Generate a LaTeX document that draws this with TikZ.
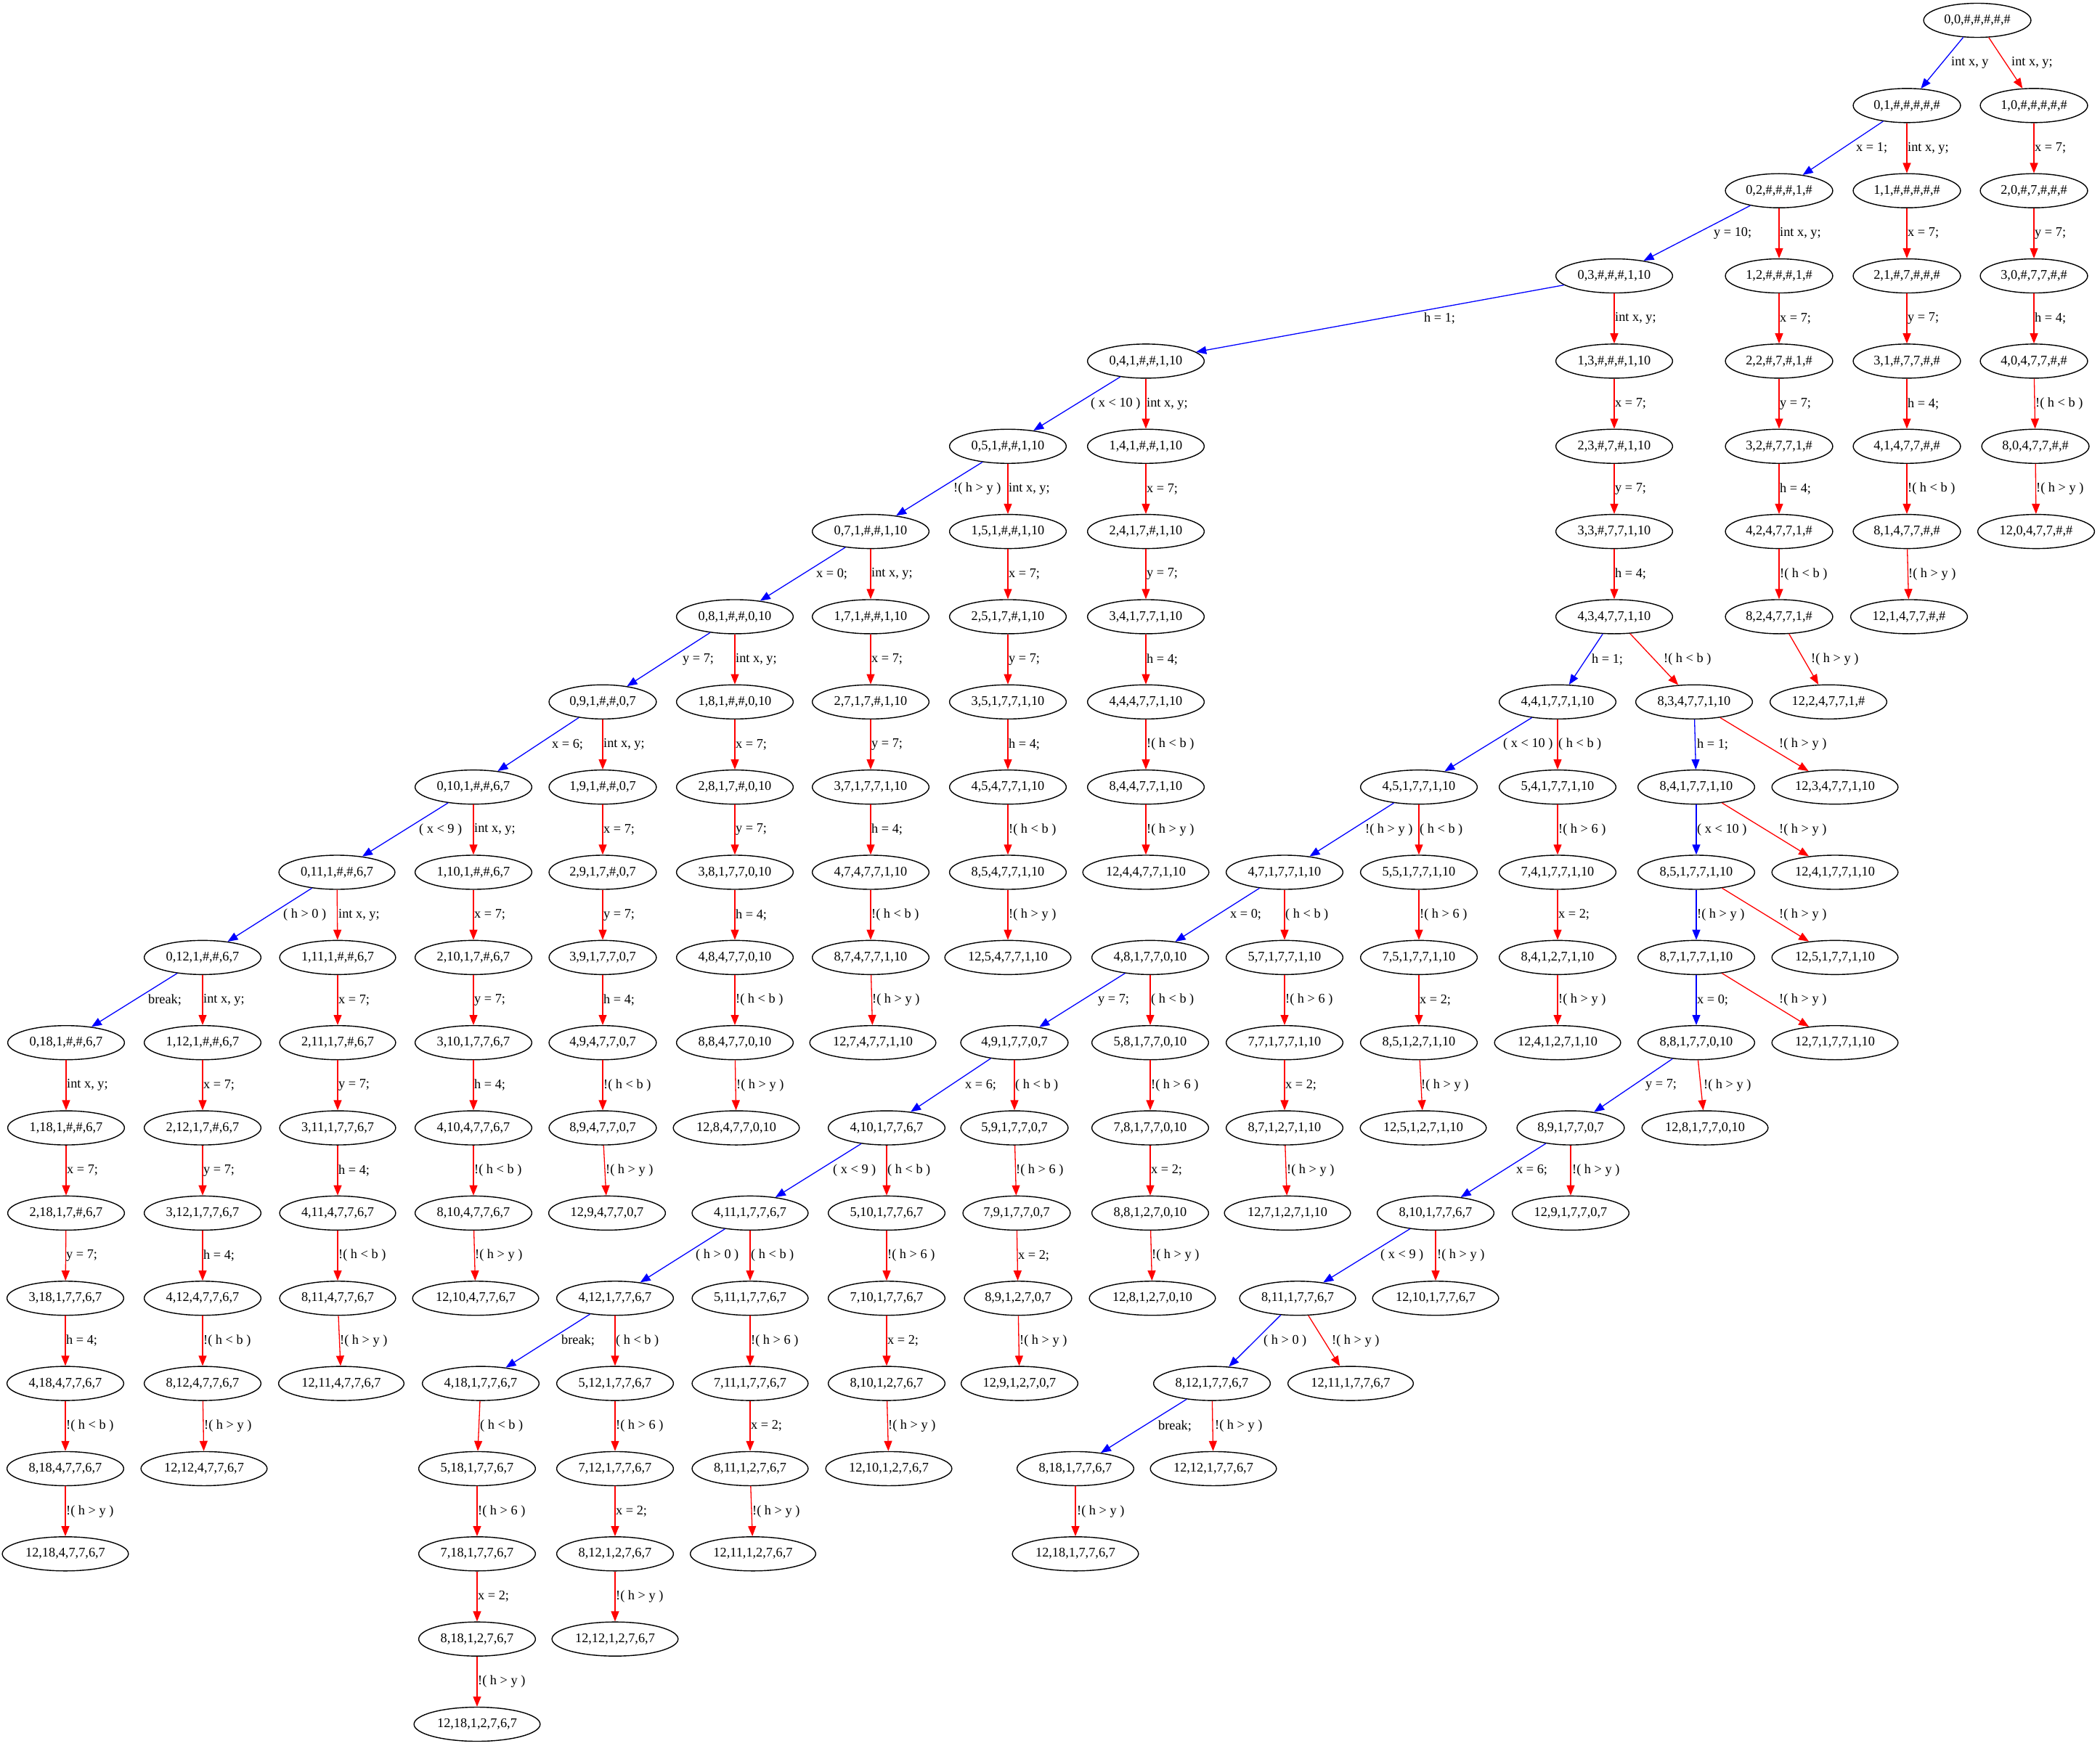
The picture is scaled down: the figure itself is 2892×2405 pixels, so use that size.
\documentclass[tikz,border=0pt]{standalone}
\usepackage{fontspec}
\setmainfont{Liberation Serif}
\usetikzlibrary{arrows.meta,shapes.geometric}
\tikzset{
  st/.style={ellipse, draw=black, line width=1.4pt, inner xsep=6.5pt, inner ysep=1pt,
    minimum height=47pt, font=\fontsize{18.3}{22}\selectfont},
  lbl/.style={anchor=west, inner sep=1pt, font=\fontsize{18.3}{22}\selectfont},
  be/.style={draw=blue, line width=1.3pt, -{Triangle[length=14pt,width=11pt]}},
  re/.style={draw=red, line width=1.3pt, -{Triangle[length=14pt,width=11pt]}},
}
\newcommand\E[6]{\draw[#1] (#2) -- (#3); \node[lbl] (L#3) at (#4,#5) {#6};}
\begin{document}
\begin{tikzpicture}[x=1pt,y=-117.35pt]
\useasboundingbox (0pt,0pt) rectangle (2892pt,-2405pt);
\begin{scope}[yshift=-28pt]
% main chain
\node[st] (m0) at (2723,0) {0,0,\#,\#,\#,\#,\#};
\node[st] (m1) at (2626,1) {0,1,\#,\#,\#,\#,\#};
\node[st] (m2) at (2450,2) {0,2,\#,\#,\#,1,\#};
\node[st] (m3) at (2223,3) {0,3,\#,\#,\#,1,10};
\node[st] (m4) at (1578,4) {0,4,1,\#,\#,1,10};
\node[st] (m5) at (1388,5) {0,5,1,\#,\#,1,10};
\node[st] (m7) at (1199,6) {0,7,1,\#,\#,1,10};
\node[st] (m8) at (1012,7) {0,8,1,\#,\#,0,10};
\node[st] (m9) at (830,8) {0,9,1,\#,\#,0,7};
\node[st] (m10) at (652,9) {0,10,1,\#,\#,6,7};
\node[st] (m11) at (464,10) {0,11,1,\#,\#,6,7};
\node[st] (m12) at (279,11) {0,12,1,\#,\#,6,7};
\node[st] (m18) at (91,12) {0,18,1,\#,\#,6,7};
% k=0
\node[st] (a0) at (2801,1) {1,0,\#,\#,\#,\#,\#};
\node[st] (b0) at (2801,2) {2,0,\#,7,\#,\#,\#};
\node[st] (c0) at (2801,3) {3,0,\#,7,7,\#,\#};
\node[st] (d0) at (2801,4) {4,0,4,7,7,\#,\#};
\node[st] (e0) at (2803,5) {8,0,4,7,7,\#,\#};
\node[st] (f0) at (2804,6) {12,0,4,7,7,\#,\#};
% k=1
\node[st] (a1) at (2626,2) {1,1,\#,\#,\#,\#,\#};
\node[st] (b1) at (2626,3) {2,1,\#,7,\#,\#,\#};
\node[st] (c1) at (2626,4) {3,1,\#,7,7,\#,\#};
\node[st] (d1) at (2626,5) {4,1,4,7,7,\#,\#};
\node[st] (e1) at (2626,6) {8,1,4,7,7,\#,\#};
\node[st] (f1) at (2629,7) {12,1,4,7,7,\#,\#};
% k=2
\node[st] (a2) at (2450,3) {1,2,\#,\#,\#,1,\#};
\node[st] (b2) at (2450,4) {2,2,\#,7,\#,1,\#};
\node[st] (c2) at (2450,5) {3,2,\#,7,7,1,\#};
\node[st] (d2) at (2450,6) {4,2,4,7,7,1,\#};
\node[st] (e2) at (2450,7) {8,2,4,7,7,1,\#};
\node[st] (f2) at (2518,8) {12,2,4,7,7,1,\#};
% k=3
\node[st] (a3) at (2223,4) {1,3,\#,\#,\#,1,10};
\node[st] (b3) at (2223,5) {2,3,\#,7,\#,1,10};
\node[st] (c3) at (2223,6) {3,3,\#,7,7,1,10};
\node[st] (d3) at (2223,7) {4,3,4,7,7,1,10};
\node[st] (e3) at (2333,8) {8,3,4,7,7,1,10};
\node[st] (f3) at (2527,9) {12,3,4,7,7,1,10};
% k=4
\node[st] (a4) at (1578,5) {1,4,1,\#,\#,1,10};
\node[st] (b4) at (1578,6) {2,4,1,7,\#,1,10};
\node[st] (c4) at (1578,7) {3,4,1,7,7,1,10};
\node[st] (d4) at (1578,8) {4,4,4,7,7,1,10};
\node[st] (e4) at (1578,9) {8,4,4,7,7,1,10};
\node[st] (f4) at (1578,10) {12,4,4,7,7,1,10};
% k=5
\node[st] (a5) at (1388,6) {1,5,1,\#,\#,1,10};
\node[st] (b5) at (1388,7) {2,5,1,7,\#,1,10};
\node[st] (c5) at (1388,8) {3,5,1,7,7,1,10};
\node[st] (d5) at (1388,9) {4,5,4,7,7,1,10};
\node[st] (e5) at (1388,10) {8,5,4,7,7,1,10};
\node[st] (f5) at (1388,11) {12,5,4,7,7,1,10};
% k=7
\node[st] (a7) at (1199,7) {1,7,1,\#,\#,1,10};
\node[st] (b7) at (1199,8) {2,7,1,7,\#,1,10};
\node[st] (c7) at (1199,9) {3,7,1,7,7,1,10};
\node[st] (d7) at (1199,10) {4,7,4,7,7,1,10};
\node[st] (e7) at (1199,11) {8,7,4,7,7,1,10};
\node[st] (f7) at (1202,12) {12,7,4,7,7,1,10};
% k=8
\node[st] (a8) at (1012,8) {1,8,1,\#,\#,0,10};
\node[st] (b8) at (1012,9) {2,8,1,7,\#,0,10};
\node[st] (c8) at (1012,10) {3,8,1,7,7,0,10};
\node[st] (d8) at (1012,11) {4,8,4,7,7,0,10};
\node[st] (e8) at (1012,12) {8,8,4,7,7,0,10};
\node[st] (f8) at (1014,13) {12,8,4,7,7,0,10};
% k=9
\node[st] (a9) at (830,9) {1,9,1,\#,\#,0,7};
\node[st] (b9) at (830,10) {2,9,1,7,\#,0,7};
\node[st] (c9) at (830,11) {3,9,1,7,7,0,7};
\node[st] (d9) at (830,12) {4,9,4,7,7,0,7};
\node[st] (e9) at (830,13) {8,9,4,7,7,0,7};
\node[st] (f9) at (836,14) {12,9,4,7,7,0,7};
% k=10
\node[st] (a10) at (652,10) {1,10,1,\#,\#,6,7};
\node[st] (b10) at (652,11) {2,10,1,7,\#,6,7};
\node[st] (c10) at (652,12) {3,10,1,7,7,6,7};
\node[st] (d10) at (652,13) {4,10,4,7,7,6,7};
\node[st] (e10) at (652,14) {8,10,4,7,7,6,7};
\node[st] (f10) at (655,15) {12,10,4,7,7,6,7};
% k=11
\node[st] (a11) at (465,11) {1,11,1,\#,\#,6,7};
\node[st] (b11) at (465,12) {2,11,1,7,\#,6,7};
\node[st] (c11) at (465,13) {3,11,1,7,7,6,7};
\node[st] (d11) at (465,14) {4,11,4,7,7,6,7};
\node[st] (e11) at (465,15) {8,11,4,7,7,6,7};
\node[st] (f11) at (470,16) {12,11,4,7,7,6,7};
% k=12
\node[st] (a12) at (279,12) {1,12,1,\#,\#,6,7};
\node[st] (b12) at (279,13) {2,12,1,7,\#,6,7};
\node[st] (c12) at (279,14) {3,12,1,7,7,6,7};
\node[st] (d12) at (279,15) {4,12,4,7,7,6,7};
\node[st] (e12) at (279,16) {8,12,4,7,7,6,7};
\node[st] (f12) at (281,17) {12,12,4,7,7,6,7};
% k=18
\node[st] (a18) at (91,13) {1,18,1,\#,\#,6,7};
\node[st] (b18) at (91,14) {2,18,1,7,\#,6,7};
\node[st] (c18) at (90,15) {3,18,1,7,7,6,7};
\node[st] (d18) at (90,16) {4,18,4,7,7,6,7};
\node[st] (e18) at (90,17) {8,18,4,7,7,6,7};
\node[st] (f18) at (90,18) {12,18,4,7,7,6,7};
% right branch main (4,k,1)
\node[st] (M4) at (2145,8) {4,4,1,7,7,1,10};
\node[st] (M5) at (1954,9) {4,5,1,7,7,1,10};
\node[st] (M7) at (1769,10) {4,7,1,7,7,1,10};
\node[st] (M8) at (1584,11) {4,8,1,7,7,0,10};
\node[st] (M9) at (1397,12) {4,9,1,7,7,0,7};
\node[st] (M10) at (1221,13) {4,10,1,7,7,6,7};
\node[st] (M11) at (1033,14) {4,11,1,7,7,6,7};
\node[st] (M12) at (847,15) {4,12,1,7,7,6,7};
\node[st] (M18) at (662,16) {4,18,1,7,7,6,7};
% P,Q,S,T
\node[st] (P4) at (2145,9) {5,4,1,7,7,1,10};
\node[st] (Q4) at (2145,10) {7,4,1,7,7,1,10};
\node[st] (S4) at (2145,11) {8,4,1,2,7,1,10};
\node[st] (T4) at (2145,12) {12,4,1,2,7,1,10};
\node[st] (P5) at (1954,10) {5,5,1,7,7,1,10};
\node[st] (Q5) at (1954,11) {7,5,1,7,7,1,10};
\node[st] (S5) at (1954,12) {8,5,1,2,7,1,10};
\node[st] (T5) at (1960,13) {12,5,1,2,7,1,10};
\node[st] (P7) at (1769,11) {5,7,1,7,7,1,10};
\node[st] (Q7) at (1769,12) {7,7,1,7,7,1,10};
\node[st] (S7) at (1769,13) {8,7,1,2,7,1,10};
\node[st] (T7) at (1773,14) {12,7,1,2,7,1,10};
\node[st] (P8) at (1584,12) {5,8,1,7,7,0,10};
\node[st] (Q8) at (1584,13) {7,8,1,7,7,0,10};
\node[st] (S8) at (1584,14) {8,8,1,2,7,0,10};
\node[st] (T8) at (1587,15) {12,8,1,2,7,0,10};
\node[st] (P9) at (1397,13) {5,9,1,7,7,0,7};
\node[st] (Q9) at (1400,14) {7,9,1,7,7,0,7};
\node[st] (S9) at (1402,15) {8,9,1,2,7,0,7};
\node[st] (T9) at (1404,16) {12,9,1,2,7,0,7};
\node[st] (P10) at (1221,14) {5,10,1,7,7,6,7};
\node[st] (Q10) at (1221,15) {7,10,1,7,7,6,7};
\node[st] (S10) at (1221,16) {8,10,1,2,7,6,7};
\node[st] (T10) at (1224,17) {12,10,1,2,7,6,7};
\node[st] (P11) at (1033,15) {5,11,1,7,7,6,7};
\node[st] (Q11) at (1033,16) {7,11,1,7,7,6,7};
\node[st] (S11) at (1033,17) {8,11,1,2,7,6,7};
\node[st] (T11) at (1037,18) {12,11,1,2,7,6,7};
\node[st] (P12) at (847,16) {5,12,1,7,7,6,7};
\node[st] (Q12) at (847,17) {7,12,1,7,7,6,7};
\node[st] (S12) at (847,18) {8,12,1,2,7,6,7};
\node[st] (T12) at (847,19) {12,12,1,2,7,6,7};
\node[st] (P18) at (657,17) {5,18,1,7,7,6,7};
\node[st] (Q18) at (657,18) {7,18,1,7,7,6,7};
\node[st] (S18) at (657,19) {8,18,1,2,7,6,7};
\node[st] (T18) at (657,20) {12,18,1,2,7,6,7};
% third branch
\node[st] (U4) at (2336,9) {8,4,1,7,7,1,10};
\node[st] (U5) at (2336,10) {8,5,1,7,7,1,10};
\node[st] (U7) at (2336,11) {8,7,1,7,7,1,10};
\node[st] (U8) at (2336,12) {8,8,1,7,7,0,10};
\node[st] (U9) at (2163,13) {8,9,1,7,7,0,7};
\node[st] (U10) at (1977,14) {8,10,1,7,7,6,7};
\node[st] (U11) at (1787,15) {8,11,1,7,7,6,7};
\node[st] (U12) at (1669,16) {8,12,1,7,7,6,7};
\node[st] (U18) at (1481,17) {8,18,1,7,7,6,7};
\node[st] (V4) at (2527,10) {12,4,1,7,7,1,10};
\node[st] (V5) at (2527,11) {12,5,1,7,7,1,10};
\node[st] (V7) at (2527,12) {12,7,1,7,7,1,10};
\node[st] (V8) at (2348,13) {12,8,1,7,7,0,10};
\node[st] (V9) at (2163,14) {12,9,1,7,7,0,7};
\node[st] (V10) at (1977,15) {12,10,1,7,7,6,7};
\node[st] (V11) at (1860,16) {12,11,1,7,7,6,7};
\node[st] (V12) at (1671,17) {12,12,1,7,7,6,7};
\node[st] (V18) at (1481,18) {12,18,1,7,7,6,7};
% ---- edges: main chain
\E{be}{m0}{m1}{2686}{0.5}{int x, y}
\E{be}{m1}{m2}{2555}{1.5}{x = 1;}
\E{be}{m2}{m3}{2359}{2.5}{y = 10;}
\E{be}{m3}{m4}{1960}{3.5}{h = 1;}
\E{be}{m4}{m5}{1501}{4.5}{( x < 10 )}
\E{be}{m5}{m7}{1312}{5.5}{!( h > y )}
\E{be}{m7}{m8}{1123}{6.5}{x = 0;}
\E{be}{m8}{m9}{939}{7.5}{y = 7;}
\E{be}{m9}{m10}{759}{8.5}{x = 6;}
\E{be}{m10}{m11}{576}{9.5}{( x < 9 )}
\E{be}{m11}{m12}{389}{10.5}{( h > 0 )}
\E{be}{m12}{m18}{203}{11.5}{break;}
% k=0
\E{re}{m0}{a0}{2769}{0.5}{int x, y;}
\E{re}{a0}{b0}{2801}{1.5}{x = 7;}
\E{re}{b0}{c0}{2801}{2.5}{y = 7;}
\E{re}{c0}{d0}{2801}{3.5}{h = 4;}
\E{re}{d0}{e0}{2802}{4.5}{!( h < b )}
\E{re}{e0}{f0}{2803}{5.5}{!( h > y )}
% k=1
\E{re}{m1}{a1}{2626}{1.5}{int x, y;}
\E{re}{a1}{b1}{2626}{2.5}{x = 7;}
\E{re}{b1}{c1}{2626}{3.5}{y = 7;}
\E{re}{c1}{d1}{2626}{4.5}{h = 4;}
\E{re}{d1}{e1}{2626}{5.5}{!( h < b )}
\E{re}{e1}{f1}{2627}{6.5}{!( h > y )}
% k=2
\E{re}{m2}{a2}{2450}{2.5}{int x, y;}
\E{re}{a2}{b2}{2450}{3.5}{x = 7;}
\E{re}{b2}{c2}{2450}{4.5}{y = 7;}
\E{re}{c2}{d2}{2450}{5.5}{h = 4;}
\E{re}{d2}{e2}{2450}{6.5}{!( h < b )}
\E{re}{e2}{f2}{2493}{7.5}{!( h > y )}
% k=3
\E{re}{m3}{a3}{2223}{3.5}{int x, y;}
\E{re}{a3}{b3}{2223}{4.5}{x = 7;}
\E{re}{b3}{c3}{2223}{5.5}{y = 7;}
\E{re}{c3}{d3}{2223}{6.5}{h = 4;}
\E{re}{d3}{e3}{2290}{7.5}{!( h < b )}
\E{re}{e3}{f3}{2449}{8.5}{!( h > y )}
\E{be}{d3}{M4}{2191}{7.5}{h = 1;}
\E{be}{e3}{U4}{2336}{8.5}{h = 1;}
% k=4
\E{re}{m4}{a4}{1578}{4.5}{int x, y;}
\E{re}{a4}{b4}{1578}{5.5}{x = 7;}
\E{re}{b4}{c4}{1578}{6.5}{y = 7;}
\E{re}{c4}{d4}{1578}{7.5}{h = 4;}
\E{re}{d4}{e4}{1578}{8.5}{!( h < b )}
\E{re}{e4}{f4}{1578}{9.5}{!( h > y )}
% k=5
\E{re}{m5}{a5}{1388}{5.5}{int x, y;}
\E{re}{a5}{b5}{1388}{6.5}{x = 7;}
\E{re}{b5}{c5}{1388}{7.5}{y = 7;}
\E{re}{c5}{d5}{1388}{8.5}{h = 4;}
\E{re}{d5}{e5}{1388}{9.5}{!( h < b )}
\E{re}{e5}{f5}{1388}{10.5}{!( h > y )}
% k=7
\E{re}{m7}{a7}{1199}{6.5}{int x, y;}
\E{re}{a7}{b7}{1199}{7.5}{x = 7;}
\E{re}{b7}{c7}{1199}{8.5}{y = 7;}
\E{re}{c7}{d7}{1199}{9.5}{h = 4;}
\E{re}{d7}{e7}{1199}{10.5}{!( h < b )}
\E{re}{e7}{f7}{1200}{11.5}{!( h > y )}
% k=8
\E{re}{m8}{a8}{1012}{7.5}{int x, y;}
\E{re}{a8}{b8}{1012}{8.5}{x = 7;}
\E{re}{b8}{c8}{1012}{9.5}{y = 7;}
\E{re}{c8}{d8}{1012}{10.5}{h = 4;}
\E{re}{d8}{e8}{1012}{11.5}{!( h < b )}
\E{re}{e8}{f8}{1013}{12.5}{!( h > y )}
% k=9
\E{re}{m9}{a9}{830}{8.5}{int x, y;}
\E{re}{a9}{b9}{830}{9.5}{x = 7;}
\E{re}{b9}{c9}{830}{10.5}{y = 7;}
\E{re}{c9}{d9}{830}{11.5}{h = 4;}
\E{re}{d9}{e9}{830}{12.5}{!( h < b )}
\E{re}{e9}{f9}{833}{13.5}{!( h > y )}
% k=10
\E{re}{m10}{a10}{652}{9.5}{int x, y;}
\E{re}{a10}{b10}{652}{10.5}{x = 7;}
\E{re}{b10}{c10}{652}{11.5}{y = 7;}
\E{re}{c10}{d10}{652}{12.5}{h = 4;}
\E{re}{d10}{e10}{652}{13.5}{!( h < b )}
\E{re}{e10}{f10}{653}{14.5}{!( h > y )}
% k=11
\E{re}{m11}{a11}{465}{10.5}{int x, y;}
\E{re}{a11}{b11}{465}{11.5}{x = 7;}
\E{re}{b11}{c11}{465}{12.5}{y = 7;}
\E{re}{c11}{d11}{465}{13.5}{h = 4;}
\E{re}{d11}{e11}{465}{14.5}{!( h < b )}
\E{re}{e11}{f11}{467}{15.5}{!( h > y )}
% k=12
\E{re}{m12}{a12}{279}{11.5}{int x, y;}
\E{re}{a12}{b12}{279}{12.5}{x = 7;}
\E{re}{b12}{c12}{279}{13.5}{y = 7;}
\E{re}{c12}{d12}{279}{14.5}{h = 4;}
\E{re}{d12}{e12}{279}{15.5}{!( h < b )}
\E{re}{e12}{f12}{280}{16.5}{!( h > y )}
% k=18
\E{re}{m18}{a18}{91}{12.5}{int x, y;}
\E{re}{a18}{b18}{91}{13.5}{x = 7;}
\E{re}{b18}{c18}{90}{14.5}{y = 7;}
\E{re}{c18}{d18}{90}{15.5}{h = 4;}
\E{re}{d18}{e18}{90}{16.5}{!( h < b )}
\E{re}{e18}{f18}{90}{17.5}{!( h > y )}
% right branch
\E{be}{M4}{M5}{2069}{8.5}{( x < 10 )}
\E{be}{M5}{M7}{1879}{9.5}{!( h > y )}
\E{be}{M7}{M8}{1693}{10.5}{x = 0;}
\E{be}{M8}{M9}{1511}{11.5}{y = 7;}
\E{be}{M9}{M10}{1328}{12.5}{x = 6;}
\E{be}{M10}{M11}{1146}{13.5}{( x < 9 )}
\E{be}{M11}{M12}{957}{14.5}{( h > 0 )}
\E{be}{M12}{M18}{772}{15.5}{break;}
\E{re}{M4}{P4}{2145}{8.5}{( h < b )}
\E{re}{P4}{Q4}{2145}{9.5}{!( h > 6 )}
\E{re}{Q4}{S4}{2145}{10.5}{x = 2;}
\E{re}{S4}{T4}{2145}{11.5}{!( h > y )}
\E{re}{M5}{P5}{1954}{9.5}{( h < b )}
\E{re}{P5}{Q5}{1954}{10.5}{!( h > 6 )}
\E{re}{Q5}{S5}{1954}{11.5}{x = 2;}
\E{re}{S5}{T5}{1956}{12.5}{!( h > y )}
\E{re}{M7}{P7}{1769}{10.5}{( h < b )}
\E{re}{P7}{Q7}{1769}{11.5}{!( h > 6 )}
\E{re}{Q7}{S7}{1769}{12.5}{x = 2;}
\E{re}{S7}{T7}{1771}{13.5}{!( h > y )}
\E{re}{M8}{P8}{1584}{11.5}{( h < b )}
\E{re}{P8}{Q8}{1584}{12.5}{!( h > 6 )}
\E{re}{Q8}{S8}{1584}{13.5}{x = 2;}
\E{re}{S8}{T8}{1585}{14.5}{!( h > y )}
\E{re}{M9}{P9}{1397}{12.5}{( h < b )}
\E{re}{P9}{Q9}{1398}{13.5}{!( h > 6 )}
\E{re}{Q9}{S9}{1401}{14.5}{x = 2;}
\E{re}{S9}{T9}{1403}{15.5}{!( h > y )}
\E{re}{M10}{P10}{1221}{13.5}{( h < b )}
\E{re}{P10}{Q10}{1221}{14.5}{!( h > 6 )}
\E{re}{Q10}{S10}{1221}{15.5}{x = 2;}
\E{re}{S10}{T10}{1222}{16.5}{!( h > y )}
\E{re}{M11}{P11}{1033}{14.5}{( h < b )}
\E{re}{P11}{Q11}{1033}{15.5}{!( h > 6 )}
\E{re}{Q11}{S11}{1033}{16.5}{x = 2;}
\E{re}{S11}{T11}{1035}{17.5}{!( h > y )}
\E{re}{M12}{P12}{847}{15.5}{( h < b )}
\E{re}{P12}{Q12}{847}{16.5}{!( h > 6 )}
\E{re}{Q12}{S12}{847}{17.5}{x = 2;}
\E{re}{S12}{T12}{847}{18.5}{!( h > y )}
\E{re}{M18}{P18}{660}{16.5}{( h < b )}
\E{re}{P18}{Q18}{657}{17.5}{!( h > 6 )}
\E{re}{Q18}{S18}{657}{18.5}{x = 2;}
\E{re}{S18}{T18}{657}{19.5}{!( h > y )}
% third branch
\E{be}{U4}{U5}{2336}{9.5}{( x < 10 )}
\E{be}{U5}{U7}{2336}{10.5}{!( h > y )}
\E{be}{U7}{U8}{2336}{11.5}{x = 0;}
\E{be}{U8}{U9}{2265}{12.5}{y = 7;}
\E{be}{U9}{U10}{2087}{13.5}{x = 6;}
\E{be}{U10}{U11}{1900}{14.5}{( x < 9 )}
\E{be}{U11}{U12}{1739}{15.5}{( h > 0 )}
\E{be}{U12}{U18}{1594}{16.5}{break;}
\E{re}{U4}{V4}{2449}{9.5}{!( h > y )}
\E{re}{U5}{V5}{2449}{10.5}{!( h > y )}
\E{re}{U7}{V7}{2449}{11.5}{!( h > y )}
\E{re}{U8}{V8}{2345}{12.5}{!( h > y )}
\E{re}{U9}{V9}{2164}{13.5}{!( h > y )}
\E{re}{U10}{V10}{1978}{14.5}{!( h > y )}
\E{re}{U11}{V11}{1833}{15.5}{!( h > y )}
\E{re}{U12}{V12}{1672}{16.5}{!( h > y )}
\E{re}{U18}{V18}{1482}{17.5}{!( h > y )}
\end{scope}
\end{tikzpicture}
\end{document}
